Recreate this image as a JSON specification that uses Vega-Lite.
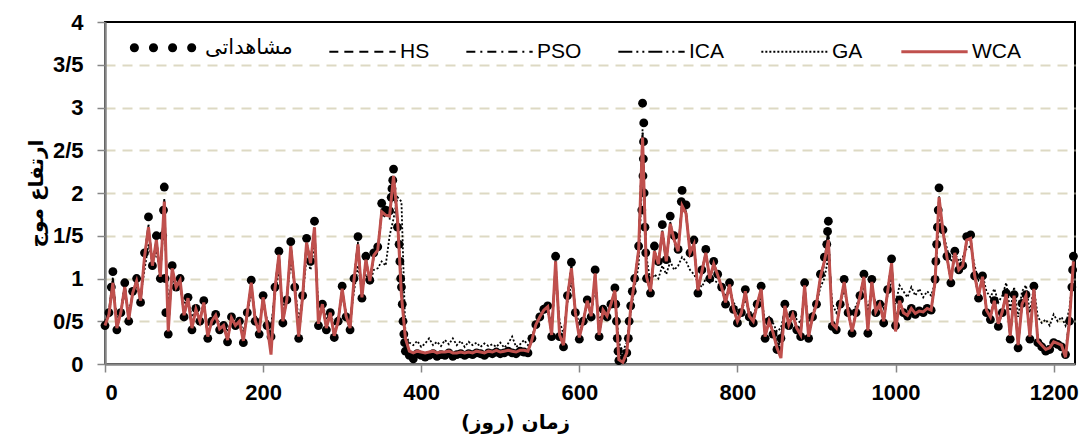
{
"$schema": "https://vega.github.io/schema/vega-lite/v6.json",
"width": 970, "height": 342,
"autosize": "none",
"padding": {"left": 105, "top": 22, "right": 6, "bottom": 75},
"background": "white",
"config": {"view": {"stroke": "black", "strokeWidth": 2}},
"datasets": {
"main": [
{"d":0,"HS":0.45,"PSO":0.47,"ICA":0.44,"GA":0.5,"WCA":0.45},
{"d":5,"HS":0.6,"PSO":0.62,"ICA":0.6,"GA":0.62,"WCA":0.58},
{"d":10,"HS":1.0,"PSO":1.02,"ICA":1.0,"GA":0.85,"WCA":0.95},
{"d":15,"HS":0.42,"PSO":0.44,"ICA":0.41,"GA":0.55,"WCA":0.42},
{"d":20,"HS":0.6,"PSO":0.62,"ICA":0.6,"GA":0.62,"WCA":0.6},
{"d":25,"HS":0.92,"PSO":0.9,"ICA":0.93,"GA":0.82,"WCA":0.9},
{"d":30,"HS":0.52,"PSO":0.54,"ICA":0.51,"GA":0.62,"WCA":0.52},
{"d":35,"HS":0.84,"PSO":0.82,"ICA":0.85,"GA":0.8,"WCA":0.83},
{"d":40,"HS":0.98,"PSO":0.96,"ICA":0.99,"GA":0.9,"WCA":0.97},
{"d":45,"HS":0.73,"PSO":0.75,"ICA":0.72,"GA":0.8,"WCA":0.74},
{"d":50,"HS":1.25,"PSO":1.22,"ICA":1.26,"GA":1.1,"WCA":1.25},
{"d":55,"HS":1.62,"PSO":1.6,"ICA":1.63,"GA":1.4,"WCA":1.6},
{"d":60,"HS":1.15,"PSO":1.17,"ICA":1.14,"GA":1.2,"WCA":1.15},
{"d":65,"HS":1.45,"PSO":1.42,"ICA":1.46,"GA":1.3,"WCA":1.45},
{"d":70,"HS":1.02,"PSO":1.05,"ICA":1.01,"GA":1.1,"WCA":1.02},
{"d":75,"HS":1.92,"PSO":1.88,"ICA":1.93,"GA":1.7,"WCA":1.9},
{"d":80,"HS":0.4,"PSO":0.45,"ICA":0.38,"GA":0.7,"WCA":0.38},
{"d":85,"HS":1.12,"PSO":1.1,"ICA":1.13,"GA":1.0,"WCA":1.12},
{"d":90,"HS":0.9,"PSO":0.92,"ICA":0.9,"GA":0.92,"WCA":0.9},
{"d":95,"HS":0.98,"PSO":0.96,"ICA":0.99,"GA":0.9,"WCA":0.98},
{"d":100,"HS":0.57,"PSO":0.6,"ICA":0.56,"GA":0.7,"WCA":0.57},
{"d":105,"HS":0.77,"PSO":0.76,"ICA":0.78,"GA":0.75,"WCA":0.77},
{"d":110,"HS":0.42,"PSO":0.45,"ICA":0.41,"GA":0.55,"WCA":0.42},
{"d":115,"HS":0.64,"PSO":0.63,"ICA":0.65,"GA":0.62,"WCA":0.64},
{"d":120,"HS":0.5,"PSO":0.52,"ICA":0.5,"GA":0.55,"WCA":0.5},
{"d":125,"HS":0.72,"PSO":0.7,"ICA":0.73,"GA":0.65,"WCA":0.72},
{"d":130,"HS":0.33,"PSO":0.36,"ICA":0.32,"GA":0.45,"WCA":0.32},
{"d":135,"HS":0.5,"PSO":0.51,"ICA":0.5,"GA":0.52,"WCA":0.5},
{"d":140,"HS":0.57,"PSO":0.56,"ICA":0.58,"GA":0.55,"WCA":0.57},
{"d":145,"HS":0.41,"PSO":0.43,"ICA":0.4,"GA":0.48,"WCA":0.41},
{"d":150,"HS":0.45,"PSO":0.46,"ICA":0.45,"GA":0.47,"WCA":0.45},
{"d":155,"HS":0.28,"PSO":0.3,"ICA":0.27,"GA":0.38,"WCA":0.28},
{"d":160,"HS":0.54,"PSO":0.53,"ICA":0.55,"GA":0.52,"WCA":0.54},
{"d":165,"HS":0.45,"PSO":0.46,"ICA":0.45,"GA":0.47,"WCA":0.45},
{"d":170,"HS":0.5,"PSO":0.5,"ICA":0.5,"GA":0.5,"WCA":0.5},
{"d":175,"HS":0.28,"PSO":0.3,"ICA":0.27,"GA":0.38,"WCA":0.27},
{"d":180,"HS":0.6,"PSO":0.59,"ICA":0.6,"GA":0.58,"WCA":0.6},
{"d":185,"HS":0.95,"PSO":0.92,"ICA":0.96,"GA":0.85,"WCA":0.95},
{"d":190,"HS":0.51,"PSO":0.53,"ICA":0.5,"GA":0.58,"WCA":0.51},
{"d":195,"HS":0.37,"PSO":0.39,"ICA":0.36,"GA":0.45,"WCA":0.37},
{"d":200,"HS":0.78,"PSO":0.76,"ICA":0.79,"GA":0.72,"WCA":0.78},
{"d":205,"HS":0.46,"PSO":0.48,"ICA":0.45,"GA":0.52,"WCA":0.46},
{"d":210,"HS":0.3,"PSO":0.33,"ICA":0.31,"GA":0.45,"WCA":0.11},
{"d":215,"HS":0.88,"PSO":0.86,"ICA":0.89,"GA":0.8,"WCA":0.88},
{"d":220,"HS":1.28,"PSO":1.25,"ICA":1.29,"GA":1.1,"WCA":1.28},
{"d":225,"HS":0.5,"PSO":0.53,"ICA":0.49,"GA":0.65,"WCA":0.5},
{"d":230,"HS":0.75,"PSO":0.76,"ICA":0.75,"GA":0.78,"WCA":0.75},
{"d":235,"HS":1.38,"PSO":1.35,"ICA":1.39,"GA":1.2,"WCA":1.38},
{"d":240,"HS":0.9,"PSO":0.9,"ICA":0.9,"GA":0.92,"WCA":0.9},
{"d":245,"HS":0.33,"PSO":0.36,"ICA":0.32,"GA":0.5,"WCA":0.32},
{"d":250,"HS":0.79,"PSO":0.78,"ICA":0.8,"GA":0.78,"WCA":0.79},
{"d":255,"HS":1.42,"PSO":1.38,"ICA":1.43,"GA":1.25,"WCA":1.42},
{"d":260,"HS":1.18,"PSO":1.16,"ICA":1.19,"GA":1.1,"WCA":1.18},
{"d":265,"HS":1.6,"PSO":1.56,"ICA":1.61,"GA":1.4,"WCA":1.6},
{"d":270,"HS":0.48,"PSO":0.52,"ICA":0.47,"GA":0.65,"WCA":0.47},
{"d":275,"HS":0.7,"PSO":0.71,"ICA":0.7,"GA":0.72,"WCA":0.7},
{"d":280,"HS":0.42,"PSO":0.44,"ICA":0.41,"GA":0.52,"WCA":0.42},
{"d":285,"HS":0.6,"PSO":0.6,"ICA":0.6,"GA":0.6,"WCA":0.6},
{"d":290,"HS":0.34,"PSO":0.36,"ICA":0.33,"GA":0.45,"WCA":0.33},
{"d":295,"HS":0.5,"PSO":0.51,"ICA":0.5,"GA":0.55,"WCA":0.5},
{"d":300,"HS":0.88,"PSO":0.86,"ICA":0.89,"GA":0.8,"WCA":0.88},
{"d":305,"HS":0.56,"PSO":0.57,"ICA":0.55,"GA":0.6,"WCA":0.56},
{"d":310,"HS":0.42,"PSO":0.44,"ICA":0.41,"GA":0.52,"WCA":0.42},
{"d":315,"HS":0.98,"PSO":0.95,"ICA":0.99,"GA":0.85,"WCA":0.98},
{"d":320,"HS":1.42,"PSO":1.38,"ICA":1.43,"GA":1.15,"WCA":1.4},
{"d":325,"HS":0.78,"PSO":0.8,"ICA":0.78,"GA":0.85,"WCA":0.78},
{"d":330,"HS":1.22,"PSO":1.2,"ICA":1.23,"GA":1.05,"WCA":1.22},
{"d":335,"HS":0.97,"PSO":0.96,"ICA":0.97,"GA":0.95,"WCA":0.97},
{"d":340,"HS":1.27,"PSO":1.25,"ICA":1.28,"GA":1.1,"WCA":1.27},
{"d":345,"HS":1.33,"PSO":1.3,"ICA":1.34,"GA":1.12,"WCA":1.33},
{"d":350,"HS":1.8,"PSO":1.75,"ICA":1.8,"GA":1.2,"WCA":1.78},
{"d":355,"HS":1.75,"PSO":1.72,"ICA":1.76,"GA":1.15,"WCA":1.74},
{"d":360,"HS":1.74,"PSO":1.7,"ICA":1.75,"GA":1.5,"WCA":1.73},
{"d":365,"HS":2.15,"PSO":2.1,"ICA":2.16,"GA":1.7,"WCA":2.2},
{"d":370,"HS":1.62,"PSO":1.65,"ICA":1.61,"GA":1.95,"WCA":1.7},
{"d":375,"HS":0.95,"PSO":1.0,"ICA":0.92,"GA":1.9,"WCA":0.8},
{"d":380,"HS":0.2,"PSO":0.22,"ICA":0.18,"GA":0.35,"WCA":0.3},
{"d":385,"HS":0.13,"PSO":0.15,"ICA":0.12,"GA":0.25,"WCA":0.15},
{"d":390,"HS":0.12,"PSO":0.13,"ICA":0.11,"GA":0.22,"WCA":0.13},
{"d":395,"HS":0.14,"PSO":0.15,"ICA":0.13,"GA":0.27,"WCA":0.15},
{"d":400,"HS":0.13,"PSO":0.14,"ICA":0.12,"GA":0.2,"WCA":0.14},
{"d":405,"HS":0.12,"PSO":0.13,"ICA":0.11,"GA":0.24,"WCA":0.13},
{"d":410,"HS":0.13,"PSO":0.14,"ICA":0.12,"GA":0.3,"WCA":0.14},
{"d":415,"HS":0.14,"PSO":0.15,"ICA":0.13,"GA":0.22,"WCA":0.15},
{"d":420,"HS":0.12,"PSO":0.13,"ICA":0.11,"GA":0.26,"WCA":0.13},
{"d":425,"HS":0.13,"PSO":0.14,"ICA":0.12,"GA":0.21,"WCA":0.14},
{"d":430,"HS":0.13,"PSO":0.14,"ICA":0.12,"GA":0.28,"WCA":0.14},
{"d":435,"HS":0.14,"PSO":0.15,"ICA":0.13,"GA":0.23,"WCA":0.15},
{"d":440,"HS":0.12,"PSO":0.13,"ICA":0.11,"GA":0.3,"WCA":0.13},
{"d":445,"HS":0.13,"PSO":0.14,"ICA":0.12,"GA":0.22,"WCA":0.13},
{"d":450,"HS":0.13,"PSO":0.14,"ICA":0.13,"GA":0.27,"WCA":0.14},
{"d":455,"HS":0.12,"PSO":0.13,"ICA":0.12,"GA":0.2,"WCA":0.13},
{"d":460,"HS":0.13,"PSO":0.14,"ICA":0.13,"GA":0.26,"WCA":0.14},
{"d":465,"HS":0.13,"PSO":0.14,"ICA":0.12,"GA":0.22,"WCA":0.13},
{"d":470,"HS":0.14,"PSO":0.15,"ICA":0.14,"GA":0.25,"WCA":0.15},
{"d":475,"HS":0.13,"PSO":0.14,"ICA":0.13,"GA":0.2,"WCA":0.14},
{"d":480,"HS":0.12,"PSO":0.13,"ICA":0.12,"GA":0.24,"WCA":0.13},
{"d":485,"HS":0.14,"PSO":0.15,"ICA":0.14,"GA":0.21,"WCA":0.15},
{"d":490,"HS":0.13,"PSO":0.14,"ICA":0.13,"GA":0.23,"WCA":0.14},
{"d":495,"HS":0.15,"PSO":0.16,"ICA":0.15,"GA":0.2,"WCA":0.16},
{"d":500,"HS":0.13,"PSO":0.14,"ICA":0.13,"GA":0.25,"WCA":0.14},
{"d":505,"HS":0.14,"PSO":0.15,"ICA":0.14,"GA":0.19,"WCA":0.15},
{"d":510,"HS":0.15,"PSO":0.16,"ICA":0.15,"GA":0.24,"WCA":0.16},
{"d":515,"HS":0.14,"PSO":0.15,"ICA":0.14,"GA":0.32,"WCA":0.15},
{"d":520,"HS":0.13,"PSO":0.14,"ICA":0.13,"GA":0.2,"WCA":0.14},
{"d":525,"HS":0.15,"PSO":0.16,"ICA":0.15,"GA":0.23,"WCA":0.16},
{"d":530,"HS":0.15,"PSO":0.16,"ICA":0.15,"GA":0.28,"WCA":0.16},
{"d":535,"HS":0.14,"PSO":0.15,"ICA":0.14,"GA":0.22,"WCA":0.15},
{"d":540,"HS":0.3,"PSO":0.31,"ICA":0.3,"GA":0.3,"WCA":0.28},
{"d":545,"HS":0.46,"PSO":0.47,"ICA":0.46,"GA":0.45,"WCA":0.46},
{"d":550,"HS":0.55,"PSO":0.55,"ICA":0.55,"GA":0.55,"WCA":0.55},
{"d":555,"HS":0.63,"PSO":0.62,"ICA":0.64,"GA":0.6,"WCA":0.63},
{"d":560,"HS":0.67,"PSO":0.66,"ICA":0.68,"GA":0.62,"WCA":0.67},
{"d":565,"HS":0.35,"PSO":0.37,"ICA":0.34,"GA":0.45,"WCA":0.34},
{"d":570,"HS":1.2,"PSO":1.16,"ICA":1.21,"GA":1.0,"WCA":1.2},
{"d":575,"HS":0.35,"PSO":0.38,"ICA":0.34,"GA":0.5,"WCA":0.34},
{"d":580,"HS":0.23,"PSO":0.26,"ICA":0.22,"GA":0.35,"WCA":0.22},
{"d":585,"HS":0.78,"PSO":0.77,"ICA":0.79,"GA":0.72,"WCA":0.78},
{"d":590,"HS":1.14,"PSO":1.1,"ICA":1.15,"GA":0.95,"WCA":1.12},
{"d":595,"HS":0.6,"PSO":0.61,"ICA":0.6,"GA":0.65,"WCA":0.6},
{"d":600,"HS":0.32,"PSO":0.35,"ICA":0.31,"GA":0.45,"WCA":0.31},
{"d":605,"HS":0.5,"PSO":0.51,"ICA":0.5,"GA":0.52,"WCA":0.5},
{"d":610,"HS":0.74,"PSO":0.73,"ICA":0.75,"GA":0.7,"WCA":0.74},
{"d":615,"HS":0.56,"PSO":0.57,"ICA":0.55,"GA":0.6,"WCA":0.56},
{"d":620,"HS":1.06,"PSO":1.03,"ICA":1.07,"GA":0.9,"WCA":1.06},
{"d":625,"HS":0.35,"PSO":0.38,"ICA":0.34,"GA":0.5,"WCA":0.34},
{"d":630,"HS":0.63,"PSO":0.63,"ICA":0.64,"GA":0.62,"WCA":0.63},
{"d":635,"HS":0.56,"PSO":0.57,"ICA":0.55,"GA":0.6,"WCA":0.56},
{"d":640,"HS":0.7,"PSO":0.7,"ICA":0.7,"GA":0.7,"WCA":0.7},
{"d":645,"HS":0.86,"PSO":0.84,"ICA":0.87,"GA":0.78,"WCA":0.86},
{"d":650,"HS":0.08,"PSO":0.12,"ICA":0.07,"GA":0.25,"WCA":0.05},
{"d":655,"HS":0.07,"PSO":0.1,"ICA":0.06,"GA":0.15,"WCA":0.02},
{"d":660,"HS":0.15,"PSO":0.18,"ICA":0.14,"GA":0.25,"WCA":0.13},
{"d":665,"HS":0.66,"PSO":0.64,"ICA":0.67,"GA":0.6,"WCA":0.66},
{"d":670,"HS":0.98,"PSO":0.96,"ICA":0.99,"GA":0.9,"WCA":0.98},
{"d":675,"HS":1.33,"PSO":1.3,"ICA":1.34,"GA":1.15,"WCA":1.33},
{"d":680,"HS":2.7,"PSO":2.6,"ICA":2.75,"GA":2.3,"WCA":2.65},
{"d":685,"HS":1.05,"PSO":1.1,"ICA":1.02,"GA":1.25,"WCA":1.02},
{"d":690,"HS":0.85,"PSO":0.88,"ICA":0.84,"GA":0.95,"WCA":0.85},
{"d":695,"HS":1.32,"PSO":1.28,"ICA":1.33,"GA":1.05,"WCA":1.32},
{"d":700,"HS":1.17,"PSO":1.15,"ICA":1.18,"GA":1.0,"WCA":1.17},
{"d":705,"HS":1.56,"PSO":1.52,"ICA":1.57,"GA":1.15,"WCA":1.55},
{"d":710,"HS":1.2,"PSO":1.18,"ICA":1.2,"GA":1.05,"WCA":1.2},
{"d":715,"HS":1.65,"PSO":1.6,"ICA":1.66,"GA":1.2,"WCA":1.64},
{"d":720,"HS":1.45,"PSO":1.42,"ICA":1.46,"GA":1.1,"WCA":1.45},
{"d":725,"HS":1.32,"PSO":1.3,"ICA":1.33,"GA":1.15,"WCA":1.32},
{"d":730,"HS":1.9,"PSO":1.85,"ICA":1.9,"GA":1.25,"WCA":1.85},
{"d":735,"HS":1.78,"PSO":1.74,"ICA":1.78,"GA":1.2,"WCA":1.76},
{"d":740,"HS":1.3,"PSO":1.28,"ICA":1.3,"GA":1.1,"WCA":1.3},
{"d":745,"HS":1.4,"PSO":1.38,"ICA":1.41,"GA":1.05,"WCA":1.4},
{"d":750,"HS":0.86,"PSO":0.9,"ICA":0.85,"GA":0.95,"WCA":0.86},
{"d":755,"HS":1.08,"PSO":1.06,"ICA":1.09,"GA":0.9,"WCA":1.08},
{"d":760,"HS":1.3,"PSO":1.27,"ICA":1.31,"GA":1.0,"WCA":1.3},
{"d":765,"HS":1.0,"PSO":0.99,"ICA":1.0,"GA":0.95,"WCA":1.0},
{"d":770,"HS":1.17,"PSO":1.15,"ICA":1.18,"GA":0.98,"WCA":1.17},
{"d":775,"HS":1.04,"PSO":1.03,"ICA":1.05,"GA":0.95,"WCA":1.04},
{"d":780,"HS":0.9,"PSO":0.9,"ICA":0.9,"GA":0.88,"WCA":0.9},
{"d":785,"HS":0.72,"PSO":0.74,"ICA":0.71,"GA":0.8,"WCA":0.72},
{"d":790,"HS":0.93,"PSO":0.92,"ICA":0.94,"GA":0.85,"WCA":0.93},
{"d":795,"HS":0.65,"PSO":0.67,"ICA":0.65,"GA":0.72,"WCA":0.65},
{"d":800,"HS":0.5,"PSO":0.53,"ICA":0.49,"GA":0.65,"WCA":0.5},
{"d":805,"HS":0.6,"PSO":0.61,"ICA":0.6,"GA":0.62,"WCA":0.6},
{"d":810,"HS":0.85,"PSO":0.83,"ICA":0.86,"GA":0.75,"WCA":0.85},
{"d":815,"HS":0.56,"PSO":0.58,"ICA":0.55,"GA":0.62,"WCA":0.56},
{"d":820,"HS":0.5,"PSO":0.52,"ICA":0.49,"GA":0.58,"WCA":0.5},
{"d":825,"HS":0.7,"PSO":0.7,"ICA":0.7,"GA":0.68,"WCA":0.7},
{"d":830,"HS":0.88,"PSO":0.86,"ICA":0.89,"GA":0.78,"WCA":0.88},
{"d":835,"HS":0.33,"PSO":0.36,"ICA":0.32,"GA":0.5,"WCA":0.32},
{"d":840,"HS":0.5,"PSO":0.51,"ICA":0.5,"GA":0.55,"WCA":0.5},
{"d":845,"HS":0.37,"PSO":0.4,"ICA":0.36,"GA":0.48,"WCA":0.37},
{"d":850,"HS":0.2,"PSO":0.24,"ICA":0.19,"GA":0.38,"WCA":0.19},
{"d":855,"HS":0.28,"PSO":0.3,"ICA":0.27,"GA":0.42,"WCA":0.07},
{"d":860,"HS":0.68,"PSO":0.67,"ICA":0.69,"GA":0.62,"WCA":0.68},
{"d":865,"HS":0.46,"PSO":0.48,"ICA":0.45,"GA":0.55,"WCA":0.46},
{"d":870,"HS":0.58,"PSO":0.58,"ICA":0.58,"GA":0.6,"WCA":0.58},
{"d":875,"HS":0.42,"PSO":0.44,"ICA":0.41,"GA":0.52,"WCA":0.42},
{"d":880,"HS":0.35,"PSO":0.37,"ICA":0.34,"GA":0.48,"WCA":0.34},
{"d":885,"HS":0.92,"PSO":0.9,"ICA":0.93,"GA":0.8,"WCA":0.92},
{"d":890,"HS":0.33,"PSO":0.36,"ICA":0.32,"GA":0.5,"WCA":0.32},
{"d":895,"HS":0.55,"PSO":0.56,"ICA":0.55,"GA":0.6,"WCA":0.55},
{"d":900,"HS":0.7,"PSO":0.7,"ICA":0.7,"GA":0.7,"WCA":0.7},
{"d":905,"HS":1.02,"PSO":1.0,"ICA":1.03,"GA":0.9,"WCA":1.02},
{"d":910,"HS":1.2,"PSO":1.16,"ICA":1.21,"GA":1.0,"WCA":1.2},
{"d":915,"HS":1.55,"PSO":1.5,"ICA":1.56,"GA":1.25,"WCA":1.45},
{"d":920,"HS":0.48,"PSO":0.52,"ICA":0.46,"GA":0.7,"WCA":0.47},
{"d":925,"HS":0.42,"PSO":0.44,"ICA":0.41,"GA":0.6,"WCA":0.42},
{"d":930,"HS":0.7,"PSO":0.7,"ICA":0.7,"GA":0.72,"WCA":0.7},
{"d":935,"HS":0.96,"PSO":0.94,"ICA":0.97,"GA":0.85,"WCA":0.96},
{"d":940,"HS":0.61,"PSO":0.62,"ICA":0.6,"GA":0.68,"WCA":0.61},
{"d":945,"HS":0.39,"PSO":0.42,"ICA":0.38,"GA":0.6,"WCA":0.38},
{"d":950,"HS":0.6,"PSO":0.61,"ICA":0.6,"GA":0.68,"WCA":0.6},
{"d":955,"HS":0.79,"PSO":0.78,"ICA":0.8,"GA":0.78,"WCA":0.79},
{"d":960,"HS":1.02,"PSO":1.0,"ICA":1.03,"GA":0.9,"WCA":1.02},
{"d":965,"HS":0.4,"PSO":0.43,"ICA":0.38,"GA":0.62,"WCA":0.39},
{"d":970,"HS":0.96,"PSO":0.94,"ICA":0.97,"GA":0.88,"WCA":0.96},
{"d":975,"HS":0.61,"PSO":0.62,"ICA":0.6,"GA":0.7,"WCA":0.61},
{"d":980,"HS":0.7,"PSO":0.7,"ICA":0.7,"GA":0.75,"WCA":0.7},
{"d":985,"HS":0.5,"PSO":0.52,"ICA":0.49,"GA":0.65,"WCA":0.5},
{"d":990,"HS":0.85,"PSO":0.84,"ICA":0.86,"GA":0.8,"WCA":0.85},
{"d":995,"HS":1.18,"PSO":1.14,"ICA":1.19,"GA":1.0,"WCA":1.18},
{"d":1000,"HS":0.45,"PSO":0.48,"ICA":0.44,"GA":0.7,"WCA":0.38},
{"d":1005,"HS":0.74,"PSO":0.74,"ICA":0.75,"GA":0.92,"WCA":0.74},
{"d":1010,"HS":0.6,"PSO":0.61,"ICA":0.6,"GA":0.85,"WCA":0.6},
{"d":1015,"HS":0.57,"PSO":0.58,"ICA":0.56,"GA":0.78,"WCA":0.57},
{"d":1020,"HS":0.65,"PSO":0.66,"ICA":0.65,"GA":0.9,"WCA":0.65},
{"d":1025,"HS":0.59,"PSO":0.6,"ICA":0.58,"GA":0.8,"WCA":0.59},
{"d":1030,"HS":0.62,"PSO":0.63,"ICA":0.62,"GA":0.88,"WCA":0.62},
{"d":1035,"HS":0.61,"PSO":0.62,"ICA":0.6,"GA":0.78,"WCA":0.61},
{"d":1040,"HS":0.65,"PSO":0.66,"ICA":0.65,"GA":0.85,"WCA":0.65},
{"d":1045,"HS":0.63,"PSO":0.64,"ICA":0.63,"GA":0.8,"WCA":0.63},
{"d":1050,"HS":0.96,"PSO":0.94,"ICA":0.97,"GA":0.95,"WCA":0.96},
{"d":1055,"HS":1.95,"PSO":1.9,"ICA":1.96,"GA":1.7,"WCA":1.95},
{"d":1060,"HS":1.55,"PSO":1.52,"ICA":1.55,"GA":1.55,"WCA":1.55},
{"d":1065,"HS":1.25,"PSO":1.24,"ICA":1.25,"GA":1.35,"WCA":1.25},
{"d":1070,"HS":0.98,"PSO":1.0,"ICA":0.97,"GA":1.2,"WCA":0.98},
{"d":1075,"HS":1.3,"PSO":1.28,"ICA":1.3,"GA":1.3,"WCA":1.3},
{"d":1080,"HS":1.1,"PSO":1.1,"ICA":1.1,"GA":1.2,"WCA":1.1},
{"d":1085,"HS":1.15,"PSO":1.15,"ICA":1.15,"GA":1.25,"WCA":1.15},
{"d":1090,"HS":1.45,"PSO":1.42,"ICA":1.46,"GA":1.35,"WCA":1.45},
{"d":1095,"HS":1.47,"PSO":1.44,"ICA":1.48,"GA":1.38,"WCA":1.47},
{"d":1100,"HS":1.04,"PSO":1.05,"ICA":1.03,"GA":1.15,"WCA":1.04},
{"d":1105,"HS":0.8,"PSO":0.83,"ICA":0.79,"GA":0.98,"WCA":0.8},
{"d":1110,"HS":1.02,"PSO":1.01,"ICA":1.02,"GA":1.05,"WCA":1.02},
{"d":1115,"HS":0.63,"PSO":0.66,"ICA":0.62,"GA":0.85,"WCA":0.63},
{"d":1120,"HS":0.55,"PSO":0.58,"ICA":0.54,"GA":0.78,"WCA":0.55},
{"d":1125,"HS":0.74,"PSO":0.75,"ICA":0.74,"GA":0.88,"WCA":0.74},
{"d":1130,"HS":0.47,"PSO":0.5,"ICA":0.46,"GA":0.72,"WCA":0.47},
{"d":1135,"HS":0.61,"PSO":0.62,"ICA":0.6,"GA":0.8,"WCA":0.61},
{"d":1140,"HS":0.82,"PSO":0.81,"ICA":0.82,"GA":0.95,"WCA":0.82},
{"d":1145,"HS":0.33,"PSO":0.37,"ICA":0.31,"GA":0.62,"WCA":0.33},
{"d":1150,"HS":0.8,"PSO":0.79,"ICA":0.8,"GA":0.9,"WCA":0.8},
{"d":1155,"HS":0.23,"PSO":0.27,"ICA":0.21,"GA":0.55,"WCA":0.22},
{"d":1160,"HS":0.7,"PSO":0.7,"ICA":0.7,"GA":0.85,"WCA":0.7},
{"d":1165,"HS":0.8,"PSO":0.79,"ICA":0.8,"GA":0.92,"WCA":0.8},
{"d":1170,"HS":0.33,"PSO":0.36,"ICA":0.31,"GA":0.6,"WCA":0.32},
{"d":1175,"HS":0.88,"PSO":0.86,"ICA":0.89,"GA":0.9,"WCA":0.88},
{"d":1180,"HS":0.28,"PSO":0.32,"ICA":0.27,"GA":0.55,"WCA":0.27},
{"d":1185,"HS":0.22,"PSO":0.25,"ICA":0.21,"GA":0.48,"WCA":0.22},
{"d":1190,"HS":0.18,"PSO":0.2,"ICA":0.17,"GA":0.52,"WCA":0.17},
{"d":1195,"HS":0.19,"PSO":0.21,"ICA":0.18,"GA":0.45,"WCA":0.19},
{"d":1200,"HS":0.26,"PSO":0.28,"ICA":0.25,"GA":0.58,"WCA":0.26},
{"d":1205,"HS":0.24,"PSO":0.26,"ICA":0.23,"GA":0.5,"WCA":0.24},
{"d":1210,"HS":0.22,"PSO":0.24,"ICA":0.21,"GA":0.55,"WCA":0.22},
{"d":1215,"HS":0.14,"PSO":0.17,"ICA":0.13,"GA":0.45,"WCA":0.08},
{"d":1220,"HS":0.5,"PSO":0.52,"ICA":0.5,"GA":0.65,"WCA":0.5},
{"d":1225,"HS":1.2,"PSO":1.15,"ICA":1.21,"GA":1.1,"WCA":1.2}
],
"obs": [
{"d":0,"v":0.45},{"d":5,"v":0.6},{"d":8,"v":0.9},{"d":10,"v":1.08},{"d":15,"v":0.4},{"d":20,"v":0.6},{"d":25,"v":0.95},{"d":30,"v":0.5},{"d":35,"v":0.85},{"d":40,"v":1.0},{"d":45,"v":0.72},{"d":50,"v":1.3},{"d":55,"v":1.72},{"d":60,"v":1.15},{"d":65,"v":1.5},{"d":70,"v":1.0},{"d":73,"v":1.5},{"d":74,"v":1.8},{"d":75,"v":2.07},{"d":76,"v":1.0},{"d":77,"v":0.6},{"d":80,"v":0.35},{"d":85,"v":1.15},{"d":90,"v":0.9},{"d":95,"v":1.0},
{"d":100,"v":0.55},{"d":105,"v":0.78},{"d":110,"v":0.4},{"d":115,"v":0.65},{"d":120,"v":0.5},{"d":125,"v":0.74},{"d":130,"v":0.3},{"d":135,"v":0.5},{"d":140,"v":0.58},{"d":145,"v":0.4},{"d":150,"v":0.45},{"d":155,"v":0.26},{"d":160,"v":0.55},{"d":165,"v":0.45},{"d":170,"v":0.5},{"d":175,"v":0.25},{"d":180,"v":0.6},{"d":185,"v":0.98},{"d":190,"v":0.5},{"d":195,"v":0.35},
{"d":200,"v":0.8},{"d":205,"v":0.45},{"d":210,"v":0.32},{"d":215,"v":0.9},{"d":220,"v":1.32},{"d":225,"v":0.48},{"d":230,"v":0.75},{"d":235,"v":1.43},{"d":240,"v":0.9},{"d":245,"v":0.3},{"d":250,"v":0.8},{"d":255,"v":1.47},{"d":260,"v":1.2},{"d":265,"v":1.67},{"d":270,"v":0.45},{"d":275,"v":0.7},{"d":280,"v":0.4},{"d":285,"v":0.6},{"d":290,"v":0.31},{"d":295,"v":0.5},
{"d":300,"v":0.91},{"d":305,"v":0.55},{"d":310,"v":0.4},{"d":315,"v":1.0},{"d":320,"v":1.49},{"d":325,"v":0.77},{"d":330,"v":1.26},{"d":335,"v":0.98},{"d":340,"v":1.3},{"d":345,"v":1.37},{"d":350,"v":1.88},{"d":355,"v":1.8},{"d":360,"v":1.79},{"d":362,"v":1.95},{"d":363,"v":2.05},{"d":364,"v":2.15},{"d":365,"v":2.28},{"d":370,"v":1.6},{"d":372,"v":1.4},{"d":373,"v":1.2},{"d":374,"v":1.0},{"d":375,"v":0.9},{"d":376,"v":0.7},{"d":377,"v":0.5},{"d":378,"v":0.35},{"d":379,"v":0.25},{"d":380,"v":0.15},{"d":385,"v":0.1},{"d":390,"v":0.06},{"d":395,"v":0.12},
{"d":400,"v":0.1},{"d":405,"v":0.08},{"d":410,"v":0.1},{"d":415,"v":0.12},{"d":420,"v":0.09},{"d":425,"v":0.11},{"d":430,"v":0.1},{"d":435,"v":0.13},{"d":440,"v":0.09},{"d":445,"v":0.11},{"d":450,"v":0.12},{"d":455,"v":0.1},{"d":460,"v":0.12},{"d":465,"v":0.11},{"d":470,"v":0.13},{"d":475,"v":0.12},{"d":480,"v":0.1},{"d":485,"v":0.13},{"d":490,"v":0.12},{"d":495,"v":0.14},
{"d":500,"v":0.12},{"d":505,"v":0.13},{"d":510,"v":0.15},{"d":515,"v":0.13},{"d":520,"v":0.12},{"d":525,"v":0.15},{"d":530,"v":0.14},{"d":535,"v":0.13},{"d":540,"v":0.3},{"d":545,"v":0.46},{"d":550,"v":0.55},{"d":555,"v":0.64},{"d":560,"v":0.68},{"d":565,"v":0.32},{"d":570,"v":1.26},{"d":575,"v":0.32},{"d":580,"v":0.2},{"d":585,"v":0.8},{"d":590,"v":1.19},{"d":595,"v":0.6},
{"d":600,"v":0.29},{"d":605,"v":0.5},{"d":610,"v":0.75},{"d":615,"v":0.55},{"d":620,"v":1.1},{"d":625,"v":0.32},{"d":630,"v":0.64},{"d":635,"v":0.55},{"d":640,"v":0.7},{"d":645,"v":0.89},{"d":646,"v":0.7},{"d":647,"v":0.5},{"d":648,"v":0.3},{"d":649,"v":0.15},{"d":650,"v":0.04},{"d":655,"v":0.05},{"d":660,"v":0.13},{"d":662,"v":0.3},{"d":663,"v":0.5},{"d":665,"v":0.68},{"d":667,"v":0.85},{"d":670,"v":1.0},{"d":675,"v":1.38},{"d":679,"v":1.8},{"d":680,"v":3.05},{"d":680.5,"v":2.2},{"d":681,"v":2.4},{"d":681.2,"v":2.6},{"d":681.5,"v":2.82},{"d":682,"v":2.0},{"d":683,"v":1.6},{"d":684,"v":1.3},{"d":685,"v":1.0},{"d":690,"v":0.83},{"d":695,"v":1.38},
{"d":700,"v":1.2},{"d":705,"v":1.63},{"d":710,"v":1.22},{"d":715,"v":1.73},{"d":720,"v":1.5},{"d":725,"v":1.34},{"d":729,"v":1.9},{"d":730,"v":2.03},{"d":735,"v":1.86},{"d":740,"v":1.3},{"d":745,"v":1.45},{"d":750,"v":0.83},{"d":755,"v":1.1},{"d":760,"v":1.34},{"d":765,"v":1.0},{"d":770,"v":1.2},{"d":775,"v":1.05},{"d":780,"v":0.9},{"d":785,"v":0.7},{"d":790,"v":0.95},{"d":795,"v":0.64},
{"d":800,"v":0.48},{"d":805,"v":0.6},{"d":810,"v":0.87},{"d":815,"v":0.55},{"d":820,"v":0.48},{"d":825,"v":0.7},{"d":830,"v":0.91},{"d":835,"v":0.3},{"d":840,"v":0.5},{"d":845,"v":0.35},{"d":850,"v":0.17},{"d":855,"v":0.3},{"d":860,"v":0.7},{"d":865,"v":0.45},{"d":870,"v":0.58},{"d":875,"v":0.4},{"d":880,"v":0.32},{"d":885,"v":0.95},{"d":890,"v":0.3},{"d":895,"v":0.55},
{"d":900,"v":0.7},{"d":905,"v":1.05},{"d":910,"v":1.25},{"d":913,"v":1.4},{"d":914,"v":1.55},{"d":915,"v":1.67},{"d":920,"v":0.44},{"d":925,"v":0.4},{"d":930,"v":0.7},{"d":935,"v":0.99},{"d":940,"v":0.6},{"d":945,"v":0.36},{"d":950,"v":0.6},{"d":955,"v":0.8},{"d":960,"v":1.05},{"d":965,"v":0.36},{"d":970,"v":0.99},{"d":975,"v":0.6},{"d":980,"v":0.7},{"d":985,"v":0.48},{"d":990,"v":0.87},{"d":995,"v":1.23},
{"d":1000,"v":0.45},{"d":1005,"v":0.75},{"d":1010,"v":0.6},{"d":1015,"v":0.56},{"d":1020,"v":0.65},{"d":1025,"v":0.58},{"d":1030,"v":0.62},{"d":1035,"v":0.6},{"d":1040,"v":0.65},{"d":1045,"v":0.63},{"d":1050,"v":0.99},{"d":1051,"v":1.2},{"d":1052,"v":1.4},{"d":1053,"v":1.6},{"d":1054,"v":1.8},{"d":1055,"v":2.06},{"d":1060,"v":1.57},{"d":1065,"v":1.26},{"d":1070,"v":0.95},{"d":1075,"v":1.32},{"d":1080,"v":1.1},{"d":1085,"v":1.15},{"d":1090,"v":1.49},{"d":1095,"v":1.51},
{"d":1100,"v":1.03},{"d":1105,"v":0.77},{"d":1110,"v":1.03},{"d":1115,"v":0.6},{"d":1120,"v":0.52},{"d":1125,"v":0.74},{"d":1130,"v":0.44},{"d":1135,"v":0.6},{"d":1140,"v":0.83},{"d":1145,"v":0.29},{"d":1150,"v":0.81},{"d":1155,"v":0.19},{"d":1160,"v":0.71},{"d":1165,"v":0.81},{"d":1170,"v":0.29},{"d":1175,"v":0.91},{"d":1180,"v":0.25},{"d":1185,"v":0.2},{"d":1190,"v":0.15},{"d":1195,"v":0.17},
{"d":1200,"v":0.25},{"d":1205,"v":0.23},{"d":1210,"v":0.2},{"d":1215,"v":0.11},{"d":1220,"v":0.5},{"d":1223,"v":0.9},{"d":1224,"v":1.1},{"d":1225,"v":1.26}
]
},
"encoding": {
"x": {"field": "d", "type": "quantitative",
 "scale": {"domain": [0, 1227], "nice": false, "zero": false},
 "axis": {"values": [0,200,400,600,800,1000,1200], "grid": false, "format": "d",
  "domainColor": "#868686", "domainWidth": 2.5, "tickColor": "#868686", "tickSize": 8, "tickWidth": 1.5,
  "labelFont": "Liberation Sans", "labelFontWeight": "bold", "labelFontSize": 22, "labelColor": "black", "labelPadding": 10,
  "title": "زمان (روز)", "titleFont": "DejaVu Sans", "titleFontSize": 20, "titleFontWeight": "bold", "titleColor": "black",
  "titleAnchor": "start", "titleAlign": "center", "titleX": 410, "titleY": 58, "titleBaseline": "middle"}},
"y": {"field": "v", "type": "quantitative",
 "scale": {"domain": [0, 4], "nice": false},
 "axis": {"values": [0,0.5,1,1.5,2,2.5,3,3.5,4], "grid": true,
  "gridColor": {"condition": {"test": "datum.value <= 0 || datum.value >= 4", "value": "transparent"}, "value": "#DDD9C3"},
  "gridDash": [10, 7], "gridWidth": 2,
  "domainColor": "#868686", "domainWidth": 2.5, "tickColor": "#868686", "tickSize": 8, "tickWidth": 1.5,
  "labelFont": "Liberation Sans", "labelFontWeight": "bold", "labelFontSize": 22, "labelColor": "black", "labelPadding": 14,
  "labelExpr": "replace(format(datum.value, '~g'), '.', '/')",
  "title": "ارتفاع موج", "titleFont": "DejaVu Sans", "titleFontSize": 20, "titleFontWeight": "bold", "titleColor": "black", "titlePadding": 6}}
},
"layer": [
{"data": {"name": "obs"},
 "mark": {"type": "circle", "size": 78, "color": "black", "opacity": 1}},
{"data": {"name": "main"},
 "transform": [{"fold": ["HS", "PSO", "ICA", "GA"], "as": ["s", "v"]}],
 "mark": {"type": "line", "strokeWidth": 1.8},
 "encoding": {
  "color": {"field": "s", "type": "nominal",
   "scale": {"domain": ["مشاهداتی", "HS", "PSO", "ICA", "GA", "WCA"], "range": ["black", "black", "black", "black", "black", "#C0504D"]},
   "legend": {"orient": "none", "legendX": 52, "legendY": 15, "direction": "horizontal", "title": null, "padding": 0,
    "symbolType": "stroke", "symbolSize": 4400, "symbolStrokeWidth": 2,
    "labelFont": "Liberation Sans, DejaVu Sans", "labelFontSize": 21, "labelColor": "black",
    "labelOffset": 27, "columnPadding": 32, "labelLimit": 200,
    "encode": {"symbols": {"update": {
      "strokeDash": {"signal": "datum.value === 'مشاهداتی' ? [0.1, 19] : datum.value === 'HS' ? [9, 6] : datum.value === 'PSO' ? [9, 5, 2, 5] : datum.value === 'ICA' ? [14, 4, 2, 4, 2, 4] : datum.value === 'GA' ? [2, 2] : [1, 0]"},
      "strokeWidth": {"signal": "datum.value === 'مشاهداتی' ? 9 : datum.value === 'WCA' ? 3 : 2"},
      "strokeCap": {"signal": "datum.value === 'مشاهداتی' ? 'round' : 'butt'"}}}}}},
  "strokeDash": {"field": "s", "type": "nominal",
   "scale": {"domain": ["HS", "PSO", "ICA", "GA"], "range": [[7, 4], [7, 4, 2, 4], [12, 4, 2, 4, 2, 4], [2, 2]]},
   "legend": null}}},
{"data": {"name": "main"},
 "transform": [{"fold": ["WCA"], "as": ["s", "v"]}],
 "mark": {"type": "line", "strokeWidth": 3},
 "encoding": {
  "color": {"field": "s", "type": "nominal",
   "scale": {"domain": ["مشاهداتی", "HS", "PSO", "ICA", "GA", "WCA"], "range": ["black", "black", "black", "black", "black", "#C0504D"]},
   "legend": {"orient": "none", "legendX": 52, "legendY": 15, "direction": "horizontal", "title": null, "padding": 0,
    "symbolType": "stroke", "symbolSize": 4400, "symbolStrokeWidth": 2,
    "labelFont": "Liberation Sans, DejaVu Sans", "labelFontSize": 21, "labelColor": "black",
    "labelOffset": 27, "columnPadding": 32, "labelLimit": 200,
    "encode": {"symbols": {"update": {
      "strokeDash": {"signal": "datum.value === 'مشاهداتی' ? [0.1, 19] : datum.value === 'HS' ? [9, 6] : datum.value === 'PSO' ? [9, 5, 2, 5] : datum.value === 'ICA' ? [14, 4, 2, 4, 2, 4] : datum.value === 'GA' ? [2, 2] : [1, 0]"},
      "strokeWidth": {"signal": "datum.value === 'مشاهداتی' ? 9 : datum.value === 'WCA' ? 3 : 2"},
      "strokeCap": {"signal": "datum.value === 'مشاهداتی' ? 'round' : 'butt'"}}}}}}}}
]
}
